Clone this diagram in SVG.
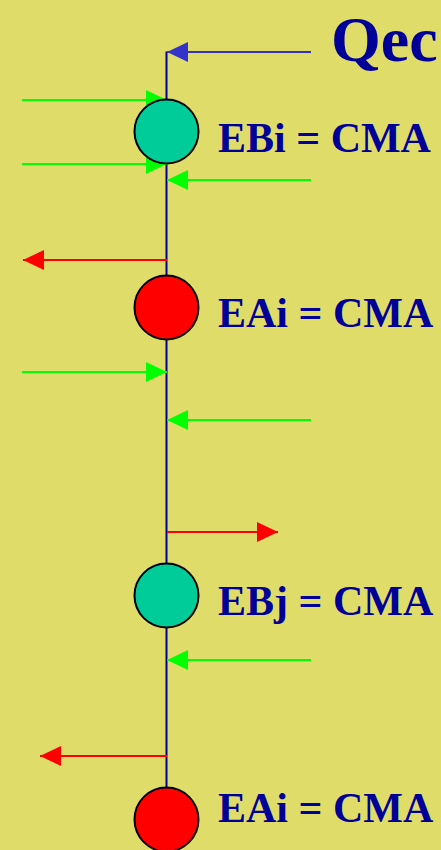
<svg xmlns="http://www.w3.org/2000/svg" width="441" height="850" viewBox="0 0 441 850">
<style>
.lbl{font-family:"Liberation Serif","Times New Roman",serif;font-weight:bold;fill:#000099;}
.node{stroke:#000;stroke-width:2;}
.ebi{fill:#00CC99;}
.eai{fill:#FF0000;}
.g{stroke:#00FF00;stroke-width:2;fill:none;}
.r{stroke:#FF0000;stroke-width:2;fill:none;}
</style>
<defs>
<marker id="ahG" viewBox="0 0 21 20" refX="21" refY="10" markerWidth="21" markerHeight="20" markerUnits="userSpaceOnUse" orient="auto"><path d="M0,0 L21,10 L0,20 z" fill="#00FF00"/></marker>
<marker id="ahR" viewBox="0 0 21 20" refX="21" refY="10" markerWidth="21" markerHeight="20" markerUnits="userSpaceOnUse" orient="auto"><path d="M0,0 L21,10 L0,20 z" fill="#FF0000"/></marker>
<marker id="ahB" viewBox="0 0 21 20" refX="21" refY="10" markerWidth="21" markerHeight="20" markerUnits="userSpaceOnUse" orient="auto"><path d="M0,0 L21,10 L0,20 z" fill="#3333CC"/></marker>
</defs>
<rect width="441" height="850" fill="#E0DC6A"/>
<g id="connectors">
<line x1="166.5" y1="51.5" x2="166.5" y2="830" stroke="#000099" stroke-width="2"/>
<line x1="311" y1="52" x2="167" y2="52" stroke="#3333CC" stroke-width="2" marker-end="url(#ahB)"/>
<line class="g" x1="22" y1="100" x2="167" y2="100" marker-end="url(#ahG)"/>
<line class="g" x1="22" y1="164" x2="167" y2="164" marker-end="url(#ahG)"/>
<line class="g" x1="311" y1="180" x2="167" y2="180" marker-end="url(#ahG)"/>
<line class="r" x1="167" y1="260" x2="23" y2="260" marker-end="url(#ahR)"/>
<line class="g" x1="22" y1="372" x2="167" y2="372" marker-end="url(#ahG)"/>
<line class="g" x1="311" y1="420" x2="167" y2="420" marker-end="url(#ahG)"/>
<line class="r" x1="167" y1="532" x2="278" y2="532" marker-end="url(#ahR)"/>
<line class="g" x1="311" y1="660" x2="167" y2="660" marker-end="url(#ahG)"/>
<line class="r" x1="167" y1="756" x2="40" y2="756" marker-end="url(#ahR)"/>
</g>
<g id="qec">
<text class="lbl" x="331" y="61" font-size="64">Qec</text>
</g>
<g id="node-ebi">
<circle class="node ebi" cx="166.5" cy="131.5" r="32"/>
<text class="lbl" x="218" y="152" font-size="42">EBi = CMA</text>
</g>
<g id="node-eai-1">
<circle class="node eai" cx="166.5" cy="307.5" r="32"/>
<text class="lbl" x="218" y="327" font-size="42">EAi = CMA</text>
</g>
<g id="node-ebj">
<circle class="node ebi" cx="166.5" cy="595.5" r="32"/>
<text class="lbl" x="218" y="615" font-size="42">EBj = CMA</text>
</g>
<g id="node-eai-2">
<circle class="node eai" cx="166.5" cy="819.5" r="32"/>
<text class="lbl" x="218" y="822" font-size="42">EAi = CMA</text>
</g>
</svg>
